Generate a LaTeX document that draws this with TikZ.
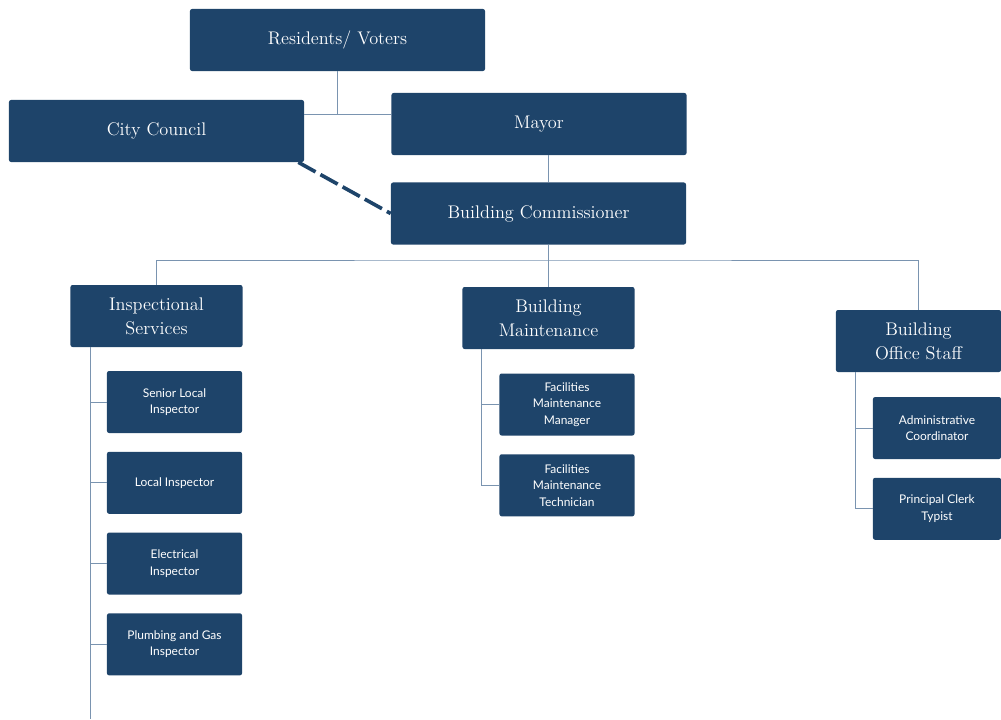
\documentclass[tikz,border=0pt]{standalone}
\usepackage{fontspec}
\usepackage{tikz}
\usetikzlibrary{positioning}
\newfontfamily\latofont{Lato}
\definecolor{boxnavy}{RGB}{30,68,106}
\definecolor{linkgray}{RGB}{122,148,176}

\begin{document}
\begin{tikzpicture}[x=0.025cm, y=-0.025cm,
  head/.style={fill=boxnavy, rounded corners=1.5pt, text=white, align=center, minimum width=7.375cm, minimum height=1.55cm, font=\fontsize{13}{17}\selectfont},
  unit/.style={head, minimum width=4.3cm},
  role/.style={fill=boxnavy, rounded corners=1.5pt, text=white, align=center, minimum width=3.375cm, minimum height=1.55cm, font=\latofont\fontsize{8.5}{11.7}\selectfont},
  link/.style={linkgray, line width=0.7pt},
  oversight/.style={boxnavy, line width=2.6pt, dash pattern=on 14pt off 4pt}
]
\useasboundingbox (0,0) rectangle (1001,719);
\node[head] (residents) at (337.5,40) {Residents/ Voters};
\node[head] (council) at (156.5,131) {City Council};
\node[head] (mayor) at (539,124) {Mayor};
\node[head] (commish) at (538.5,213.5) {Building Commissioner};
\node[unit] (insp) at (156.5,316) {Inspectional\\Services};
\node[unit] (maint) at (548.5,318) {Building\\Maintenance};
\node[unit, minimum width=4.125cm] (staff) at (918.5,341) {Building\\Office Staff};
\node[role] (senior) at (174.5,402) {Senior Local\\Inspector};
\node[role, below=0.455cm of senior] (local) {Local Inspector};
\node[role, below=0.455cm of local] (elec) {Electrical\\Inspector};
\node[role, below=0.455cm of elec] (plumb) {Plumbing and Gas\\Inspector};
\node[role] (manager) at (567,404.5) {Facilities\\Maintenance\\Manager};
\node[role, below=0.455cm of manager] (tech) {Facilities\\Maintenance\\Technician};
\node[role, minimum width=3.2cm] (admin) at (937,428) {Administrative\\Coordinator};
\node[role, minimum width=3.2cm, below=0.455cm of admin] (clerk) {Principal Clerk\\Typist};
\coordinate (hub) at (337.5,114);
\coordinate (spine) at (548.5,260);
\coordinate (itrunk) at (90,719);
\coordinate (mtrunk) at (481,0);
\coordinate (strunk) at (855,0);
\draw[link] (residents) -- (hub);
\draw[link] (council.east |- hub) -- (mayor.west |- hub);
\draw[link] (mayor.south -| spine) -- (commish.north -| spine);
\draw[link] (commish.south -| spine) -- (maint.north);
\draw[link] (insp.north) |- (spine) -| (staff.north);
\draw[oversight] (council.south east) ++(-6,0) coordinate (cc) (cc) -- (commish.west);
\draw[link] (insp.south -| itrunk) -- (itrunk);
\foreach \r in {senior,local,elec,plumb}
  \draw[link] (\r.west) -- (\r.west -| itrunk);
\draw[link] (maint.south -| mtrunk) |- (tech.west);
\draw[link] (manager.west) -- (manager.west -| mtrunk);
\draw[link] (staff.south -| strunk) |- (clerk.west);
\draw[link] (admin.west) -- (admin.west -| strunk);
\end{tikzpicture}
\end{document}
